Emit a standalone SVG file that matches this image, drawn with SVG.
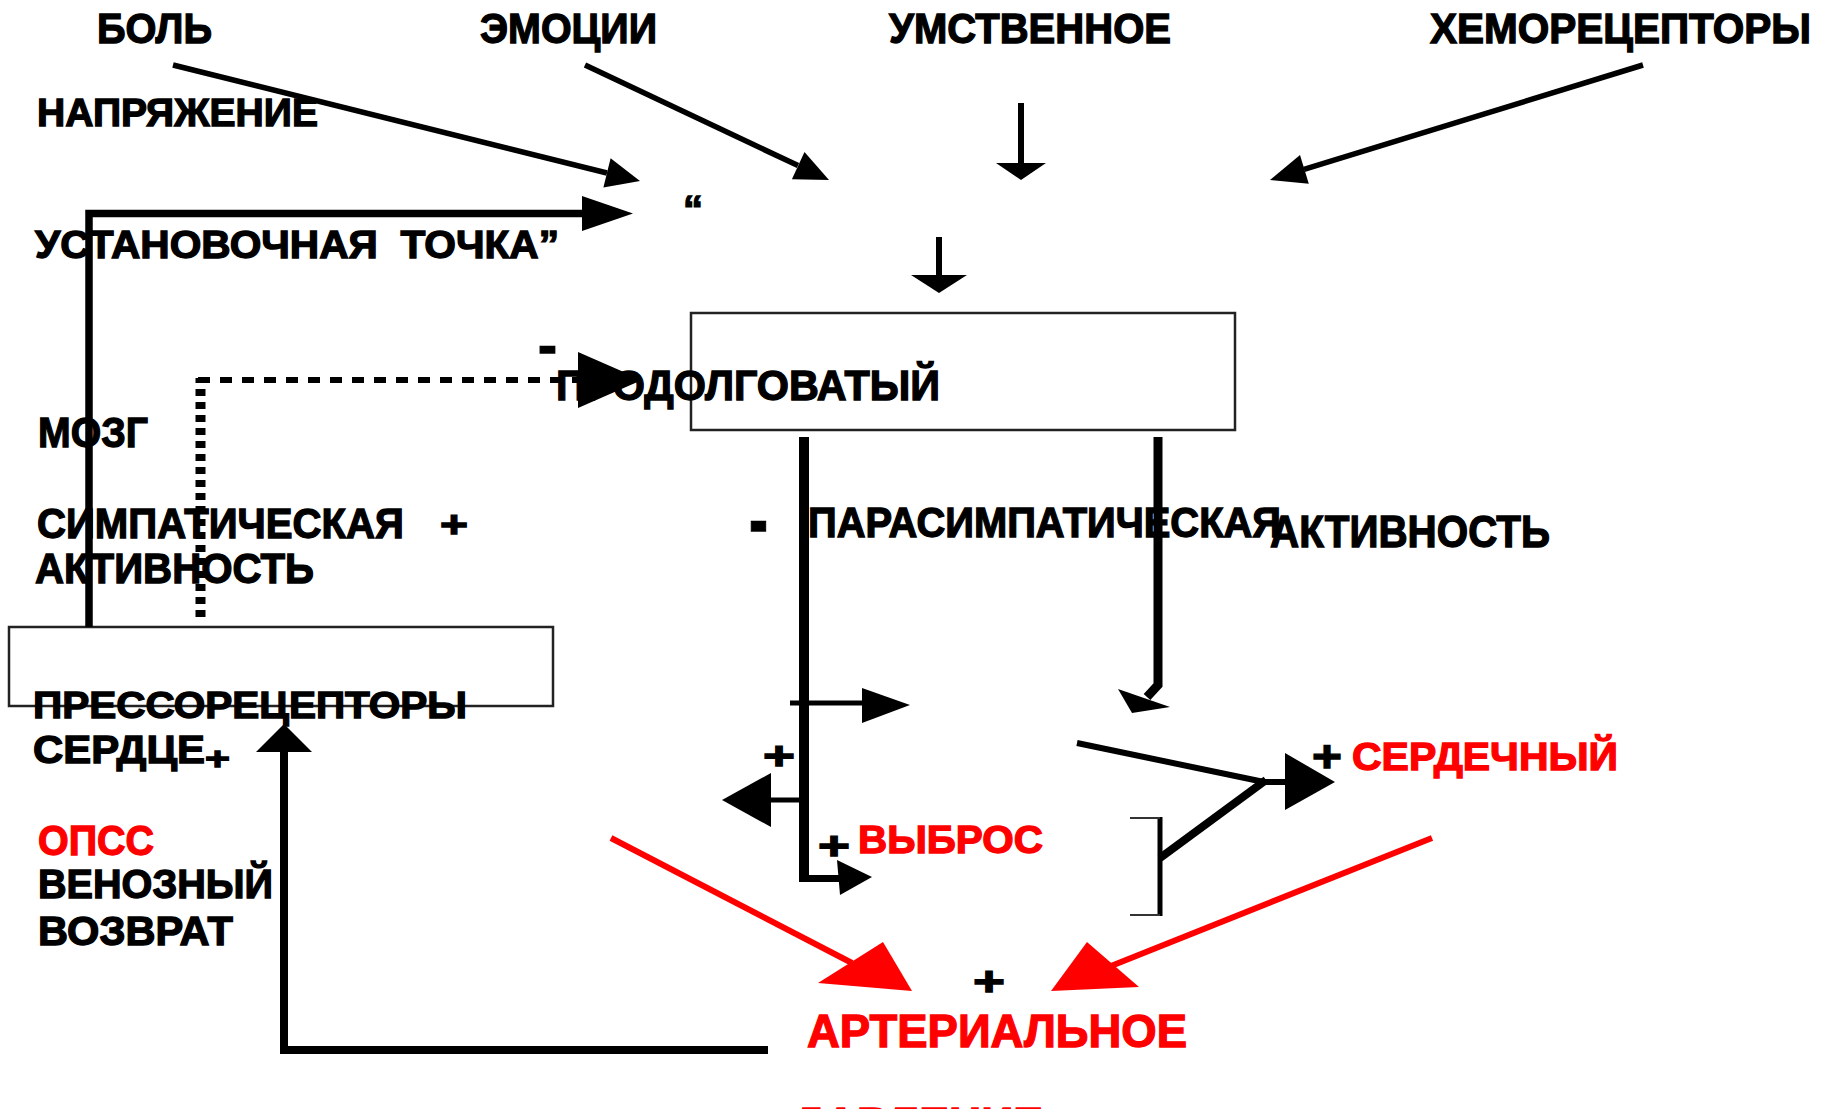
<svg xmlns="http://www.w3.org/2000/svg" width="1825" height="1109" viewBox="0 0 1825 1109">
<style>
text{font-family:"Liberation Sans Narrow","Liberation Sans","DejaVu Sans Condensed",Arial,sans-serif;font-weight:bold;fill:#000;stroke:#000;stroke-width:1.3}
.red{fill:#f00;stroke:#f00}
.box{fill:none;stroke:#222;stroke-width:2.5}
.ln{fill:none;stroke:#000;stroke-linecap:butt;stroke-linejoin:miter}
.hd{fill:#000}
.rl{fill:none;stroke:#f00;stroke-width:6}
.rh{fill:#f00}
.dot{fill:none;stroke:#000}
</style>
<rect width="1825" height="1109" fill="#fff"/>

<g id="n-bol"><text x="97" y="43" font-size="42" textLength="115" lengthAdjust="spacingAndGlyphs">БОЛЬ</text></g>
<g id="n-emocii"><text x="480" y="43" font-size="42" textLength="177" lengthAdjust="spacingAndGlyphs">ЭМОЦИИ</text></g>
<g id="n-umstv"><text x="889" y="43" font-size="42" textLength="282" lengthAdjust="spacingAndGlyphs">УМСТВЕННОЕ</text></g>
<g id="n-hemo"><text x="1430" y="43" font-size="42" textLength="381" lengthAdjust="spacingAndGlyphs">ХЕМОРЕЦЕПТОРЫ</text></g>
<g id="n-napr"><text x="37" y="126" font-size="39" textLength="281" lengthAdjust="spacingAndGlyphs">НАПРЯЖЕНИЕ</text></g>
<g id="n-setpoint">
<text x="683" y="223" font-size="39" textLength="20" lengthAdjust="spacingAndGlyphs">“</text>
<text x="35" y="258" font-size="39" textLength="524" lengthAdjust="spacingAndGlyphs" xml:space="preserve">УСТАНОВОЧНАЯ  ТОЧКА”</text>
</g>
<g id="n-medulla">
<rect class="box" x="691" y="313" width="544" height="117"/>
<text x="556" y="400" font-size="42" textLength="384" lengthAdjust="spacingAndGlyphs">ПРОДОЛГОВАТЫЙ</text>
</g>
<g id="n-mozg"><text x="38" y="447" font-size="43" textLength="110" lengthAdjust="spacingAndGlyphs">МОЗГ</text></g>
<g id="n-symp">
<text x="37" y="538" font-size="42" textLength="367" lengthAdjust="spacingAndGlyphs">СИМПАТИЧЕСКАЯ</text>
<text x="440" y="537" font-size="36" textLength="28" lengthAdjust="spacingAndGlyphs">+</text>
<text x="35" y="583" font-size="42" textLength="279" lengthAdjust="spacingAndGlyphs">АКТИВНОСТЬ</text>
</g>
<g id="n-para">
<text x="749" y="547" font-size="80" textLength="19" lengthAdjust="spacingAndGlyphs">-</text>
<text x="808" y="537" font-size="42" textLength="473" lengthAdjust="spacingAndGlyphs">ПАРАСИМПАТИЧЕСКАЯ</text>
<text x="1270" y="547" font-size="44" textLength="280" lengthAdjust="spacingAndGlyphs">АКТИВНОСТЬ</text>
</g>
<g id="n-baro">
<rect class="box" x="9" y="627" width="544" height="79"/>
<text x="33" y="718" font-size="36" textLength="434" lengthAdjust="spacingAndGlyphs">ПРЕССОРЕЦЕПТОРЫ</text>
<text x="33" y="763" font-size="39" textLength="172" lengthAdjust="spacingAndGlyphs">СЕРДЦЕ</text>
<text x="205" y="769" font-size="32" textLength="25" lengthAdjust="spacingAndGlyphs">+</text>
</g>
<g id="n-opss"><text class="red" x="38" y="855" font-size="42" textLength="116" lengthAdjust="spacingAndGlyphs">ОПСС</text></g>
<g id="n-venous">
<text x="38" y="898" font-size="40" textLength="235" lengthAdjust="spacingAndGlyphs">ВЕНОЗНЫЙ</text>
<text x="38" y="945" font-size="40" textLength="195" lengthAdjust="spacingAndGlyphs">ВОЗВРАТ</text>
</g>
<g id="n-output">
<text x="763" y="769" font-size="38" textLength="32" lengthAdjust="spacingAndGlyphs">+</text>
<text x="818" y="859" font-size="38" textLength="32" lengthAdjust="spacingAndGlyphs">+</text>
<text class="red" x="858" y="853" font-size="39" textLength="185" lengthAdjust="spacingAndGlyphs">ВЫБРОС</text>
<text x="1312" y="772" font-size="44" textLength="30" lengthAdjust="spacingAndGlyphs">+</text>
<text class="red" x="1352" y="770" font-size="39" textLength="266" lengthAdjust="spacingAndGlyphs">СЕРДЕЧНЫЙ</text>
</g>
<g id="n-pressure">
<text x="973" y="995" font-size="40" textLength="32" lengthAdjust="spacingAndGlyphs">+</text>
<text class="red" x="807" y="1047" font-size="47" textLength="380" lengthAdjust="spacingAndGlyphs">АРТЕРИАЛЬНОЕ</text>
<text class="red" x="793" y="1140" font-size="47" textLength="250" lengthAdjust="spacingAndGlyphs">ДАВЛЕНИЕ</text>
</g>
<g id="n-minus">
<text x="538" y="364" font-size="55" textLength="19" lengthAdjust="spacingAndGlyphs">-</text>
</g>

<g id="connectors">
<line class="ln" x1="173" y1="65" x2="607" y2="173" stroke-width="5.5"/>
<polygon class="hd" points="610.6,158.2 640,181 603.4,187.4"/>
<line class="ln" x1="585" y1="65" x2="798" y2="165.6" stroke-width="5.5"/>
<polygon class="hd" points="804.5,152 829,180 791.9,179.2"/>
<line class="ln" x1="1021" y1="103" x2="1021" y2="164" stroke-width="6"/>
<polygon class="hd" points="996,163 1046,163 1021,180"/>
<line class="ln" x1="939" y1="237" x2="939" y2="276" stroke-width="6"/>
<polygon class="hd" points="911,275 967,275 939,293"/>
<line class="ln" x1="1643" y1="65" x2="1304" y2="169.4" stroke-width="5.5"/>
<polygon class="hd" points="1300,155.1 1270,180 1308.8,183.7"/>

<path class="ln" d="M89,627 V213.5 H583" stroke-width="7.5"/>
<polygon class="hd" points="582,196 633,213.5 582,231"/>

<line class="dot" x1="200.5" y1="617" x2="200.5" y2="378" stroke-width="10" stroke-dasharray="7 6"/>
<line class="dot" x1="198" y1="380" x2="579" y2="380" stroke-width="6" stroke-dasharray="12 10"/>
<polygon class="hd" points="578,352 642,380 578,408"/>

<line class="ln" x1="804" y1="437" x2="804" y2="882" stroke-width="10"/>
<line class="ln" x1="799" y1="878.5" x2="840" y2="878.5" stroke-width="7"/>
<polygon class="hd" points="837,860 872,877 840,895"/>
<line class="ln" x1="790" y1="703" x2="863" y2="703" stroke-width="5"/>
<polygon class="hd" points="862,688 910,705 862,723"/>
<line class="ln" x1="804" y1="800" x2="770" y2="800" stroke-width="5"/>
<polygon class="hd" points="771,773 722,800 771,827"/>

<path class="ln" d="M1158,437 V685 L1147,697" stroke-width="9"/>
<polygon class="hd" points="1118,689 1170,707 1132,713"/>

<line class="ln" x1="1077" y1="743" x2="1264" y2="782" stroke-width="6"/>
<line class="ln" x1="1262" y1="782" x2="1287" y2="782" stroke-width="6"/>
<polygon class="hd" points="1285,753 1335,782 1285,810"/>
<line class="ln" x1="1266" y1="780" x2="1160" y2="858" stroke-width="8"/>
<line class="ln" x1="1160" y1="817" x2="1160" y2="916" stroke-width="5"/>
<path d="M1130,818 H1160 M1130,915 H1160" fill="none" stroke="#333" stroke-width="2"/>

<line class="rl" x1="611" y1="838" x2="852" y2="963"/>
<polygon class="rh" points="818,983 883,942 912,991"/>
<line class="rl" x1="1432" y1="838" x2="1111" y2="966"/>
<polygon class="rh" points="1087,942 1139,987 1051,991"/>

<path class="ln" d="M768,1050 H284 V750" stroke-width="8"/>
<polygon class="hd" points="256,752 312,752 284,724"/>
</g>
</svg>
